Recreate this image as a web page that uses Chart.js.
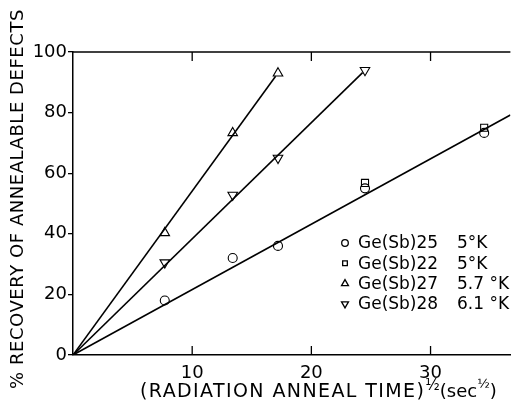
<!DOCTYPE html>
<html lang="en">
<head>
    <meta charset="UTF-8">
    <title>Recovery of annealable defects</title>
    <script src="https://cdn.jsdelivr.net/npm/chart.js"></script>
    <style>
        body {
            margin: 0;
            padding: 0;
            background: #fff;
        }
    </style>
</head>
<body>
    <canvas id="myChart" width="517" height="400"></canvas>

    <script>
        // measured points, x = sqrt(anneal time) (sec^1/2), y = % recovery
        const x25 = [7.7, 13.4, 17.2, 24.5, 34.5];
        const y25 = [18, 32, 36, 55, 73.3];
        const x22 = [24.5, 34.5];
        const y22 = [56.8, 75];
        const x27 = [7.7, 13.4, 17.2];
        const y27 = [40.3, 73.3, 93];
        const x28 = [7.7, 13.4, 17.2, 24.5];
        const y28 = [30.5, 52.8, 65, 94];

        // straight fit lines, from origin to end point
        const fitX = [[0, 36.7], [0, 17.0], [0, 24.3]];
        const fitY = [[0, 79.2], [0, 92], [0, 93.2]];

        const legendNames = ['Ge(Sb)25', 'Ge(Sb)22', 'Ge(Sb)27', 'Ge(Sb)28'];
        const legendTemps = ['5°K', '5°K', '5.7 °K', '6.1 °K'];
        const legendStyles = ['circle', 'rect', 'triangle', 'triangle'];
        const legendRot = [0, 0, 0, 180];

        const xTickValues = [10, 20, 30];

        const FONT = '"DejaVu Sans", sans-serif';

        function pts(xs, ys) {
            return xs.map((x, i) => ({ x: x, y: ys[i] }));
        }

        function markerSet(xs, ys, style, rot, r) {
            return {
                type: 'scatter',
                data: pts(xs, ys),
                pointStyle: style,
                rotation: rot,
                pointRadius: r,
                borderWidth: 1.1,
                borderColor: '#000',
                backgroundColor: 'rgba(0,0,0,0)',
                showLine: false
            };
        }

        function fitSet(i) {
            return {
                type: 'line',
                data: pts(fitX[i], fitY[i]),
                borderColor: '#000',
                borderWidth: 1.6,
                pointRadius: 0,
                fill: false
            };
        }

        const decor = {
            id: 'decor',
            afterDraw(chart) {
                const ctx = chart.ctx;
                const a = chart.chartArea;
                const xs = chart.scales.x;
                ctx.save();
                ctx.strokeStyle = '#000';
                ctx.lineWidth = 1.5;

                // top frame line
                ctx.beginPath();
                ctx.moveTo(a.left, a.top);
                ctx.lineTo(a.right, a.top);
                ctx.stroke();

                // inward x ticks, top and bottom
                ctx.lineWidth = 1.3;
                xTickValues.forEach(v => {
                    const px = xs.getPixelForValue(v);
                    ctx.beginPath();
                    ctx.moveTo(px, a.bottom);
                    ctx.lineTo(px, a.bottom - 9);
                    ctx.moveTo(px, a.top);
                    ctx.lineTo(px, a.top + 9);
                    ctx.stroke();
                });

                ctx.fillStyle = '#000';

                // y title
                ctx.save();
                ctx.translate(18, 199);
                ctx.rotate(-Math.PI / 2);
                ctx.font = '18px ' + FONT;
                ctx.letterSpacing = '0.55px';
                ctx.textAlign = 'center';
                ctx.textBaseline = 'middle';
                ctx.fillText('% RECOVERY OF ANNEALABLE DEFECTS', 0, 0);
                ctx.restore();

                // x title with superscripts
                ctx.save();
                ctx.textBaseline = 'alphabetic';
                ctx.textAlign = 'left';
                let tx = 140;
                const by = 397;
                const parts = [
                    ['(RADIATION ANNEAL TIME)', 19, 0, '1.4px'],
                    ['½', 15, -7, '0px'],
                    ['(sec', 18, 0, '0px'],
                    ['½', 13, -9, '0px'],
                    [')', 18, 0, '0px']
                ];
                parts.forEach(p => {
                    ctx.font = p[1] + 'px ' + FONT;
                    ctx.letterSpacing = p[3];
                    ctx.fillText(p[0], tx, by + p[2]);
                    tx += ctx.measureText(p[0]).width;
                });
                ctx.restore();

                // legend inside the plot
                ctx.font = '17px ' + FONT;
                ctx.textBaseline = 'middle';
                ctx.textAlign = 'left';
                legendNames.forEach((name, i) => {
                    const ly = 243 + i * 20.3;
                    ctx.fillStyle = '#fff';
                    Chart.helpers.drawPoint(ctx, {
                        pointStyle: legendStyles[i],
                        radius: legendStyles[i] === 'triangle' ? 4 : 3.3,
                        rotation: legendRot[i],
                        borderWidth: 1
                    }, 345, ly);
                    ctx.fillStyle = '#000';
                    ctx.fillText(name, 358, ly + 1);
                    ctx.fillText(legendTemps[i], 457, ly + 1);
                });

                ctx.restore();
            }
        };

        const chart = new Chart(document.getElementById('myChart'), {
            type: 'scatter',
            data: {
                datasets: [
                    fitSet(0), fitSet(1), fitSet(2),
                    markerSet(x25, y25, 'circle', 0, 4.5),
                    markerSet(x22, y22, 'rect', 0, 5),
                    markerSet(x27, y27, 'triangle', 0, 5.5),
                    markerSet(x28, y28, 'triangle', 180, 5.5)
                ]
            },
            options: {
                responsive: false,
                animation: false,
                layout: {
                    padding: { top: 52, right: 0, left: 0, bottom: 0 }
                },
                plugins: {
                    legend: { display: false },
                    tooltip: { enabled: false }
                },
                scales: {
                    x: {
                        type: 'linear',
                        min: 0,
                        max: 36.7,
                        afterFit: s => { s.height = 45; },
                        border: { display: true, color: '#000', width: 1.5 },
                        grid: { display: true, drawOnChartArea: false, drawTicks: false },
                        ticks: {
                            stepSize: 10,
                            includeBounds: false,
                            maxRotation: 0,
                            padding: 8,
                            color: '#000',
                            font: { family: FONT, size: 18 },
                            callback: v => (v === 0 ? '' : v)
                        }
                    },
                    y: {
                        min: 0,
                        max: 100,
                        afterFit: s => { s.width = 73; },
                        border: { display: true, color: '#000', width: 1.5 },
                        grid: {
                            drawOnChartArea: false,
                            drawTicks: true,
                            tickLength: 5,
                            color: '#000',
                            lineWidth: 1.3
                        },
                        ticks: {
                            stepSize: 20,
                            padding: 1,
                            color: '#000',
                            font: { family: FONT, size: 18 }
                        }
                    }
                }
            },
            plugins: [decor]
        });
    </script>
</body>
</html>
